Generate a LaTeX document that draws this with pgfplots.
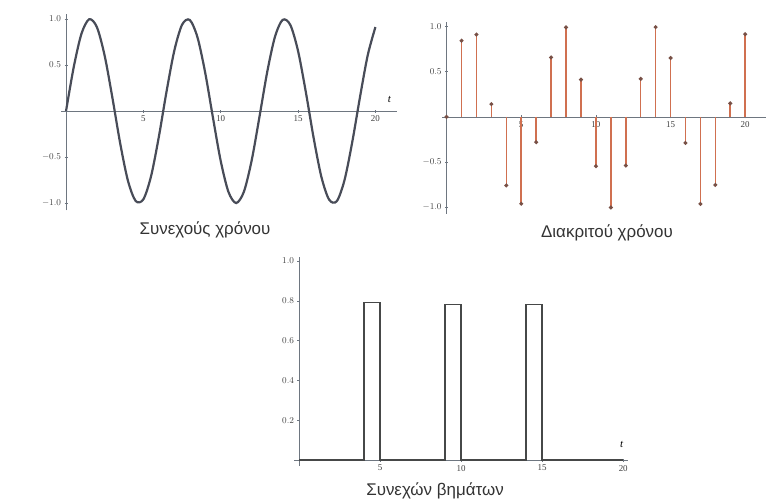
\documentclass[border=0pt]{standalone}
\usepackage{fontspec}
\setmainfont{Liberation Serif}
\newfontfamily\capfont{Liberation Sans}
\usepackage{pgfplots}
\pgfplotsset{compat=1.18}
\definecolor{curve}{RGB}{72,76,88}
\definecolor{stem}{RGB}{208,112,80}
\definecolor{stemdot}{RGB}{120,80,70}
\definecolor{axc}{RGB}{110,118,128}
\definecolor{pulse}{RGB}{70,72,72}
\pgfplotsset{
  mystyle/.style={
    axis lines=middle,
    scale only axis,
    axis line style={axc, line width=0.7pt, -},
    tick style={axc, line width=0.5pt},
    major tick length=3bp,
    tick label style={font=\fontsize{9}{10}\selectfont, text=black!75},
    /pgf/number format/assume math mode=true,
    /pgf/number format/fixed,
    clip=false,
  }
}
\begin{document}
\begin{tikzpicture}
\path[use as bounding box] (0,0) rectangle (767bp,501bp);

% Plot 1: continuous time
\begin{axis}[mystyle,
  at={(61.4bp,290.6bp)}, anchor=south west,
  width=335.7bp, height=196bp,
  xmin=-0.3, xmax=21.4, ymin=-1.08, ymax=1.05,
  xtick={5,10,15,20}, ytick={-1,-0.5,0.5,1},
  yticklabels={$-1.0$,$-0.5$,$0.5$,$1.0$},
]
\addplot[curve, line width=2.2bp, smooth] coordinates {
(0,0) (0.5,0.4794) (1,0.8415) (1.5,0.9975) (2,0.9093) (2.5,0.5985) (3,0.1411) (3.5,-0.3508)
(4,-0.7568) (4.5,-0.9775) (5,-0.9589) (5.5,-0.7055) (6,-0.2794) (6.5,0.2151) (7,0.6570)
(7.5,0.9380) (8,0.9894) (8.5,0.7985) (9,0.4121) (9.5,-0.0752) (10,-0.5440) (10.5,-0.8797)
(11,-1.0000) (11.5,-0.8755) (12,-0.5366) (12.5,-0.0663) (13,0.4202) (13.5,0.8038)
(14,0.9906) (14.5,0.9349) (15,0.6503) (15.5,0.2065) (16,-0.2879) (16.5,-0.7118)
(17,-0.9614) (17.5,-0.9802) (18,-0.7510) (18.5,-0.3383) (19,0.1499) (19.5,0.6055) (20,0.9129)
};
\node[font=\fontsize{11}{12}\selectfont\itshape] at (axis cs:20.9,0.13) {t};
\end{axis}

% Plot 2: discrete time
\begin{axis}[mystyle,
  at={(442.1bp,287.2bp)}, anchor=south west,
  width=324bp, height=192bp,
  xmin=-0.3, xmax=21.4, ymin=-1.07, ymax=1.05,
  xtick={5,10,15,20}, ytick={-1,-0.5,0.5,1},
  yticklabels={$-1.0$,$-0.5$,$0.5$,$1.0$},
]
\addplot[ycomb, stem, line width=1.6bp, mark=*, mark size=1.1bp,
  mark options={stemdot, fill=stemdot}] coordinates {
(0,0) (1,0.841) (2,0.909) (3,0.141) (4,-0.757) (5,-0.959) (6,-0.279) (7,0.657)
(8,0.989) (9,0.412) (10,-0.544) (11,-1.000) (12,-0.537) (13,0.420) (14,0.991)
(15,0.650) (16,-0.288) (17,-0.961) (18,-0.751) (19,0.150) (20,0.913)
};
\end{axis}

% Plot 3: pulses
\begin{axis}[mystyle,
  at={(294.1bp,35bp)}, anchor=south west,
  width=334bp, height=209bp,
  xmin=-0.3, xmax=20.3, ymin=-0.03, ymax=1.02,
  xtick={5,10,15,20}, ytick={0.2,0.4,0.6,0.8,1},
  yticklabels={$0.2$,$0.4$,$0.6$,$0.8$,$1.0$},
]
\addplot[pulse, line width=1.4bp] coordinates {
(0,0) (4,0) (4,0.79) (5,0.79) (5,0) (9,0) (9,0.78) (10,0.78) (10,0)
(14,0) (14,0.78) (15,0.78) (15,0) (20,0)
};
\node[font=\fontsize{11}{12}\selectfont\itshape] at (axis cs:19.9,0.08) {t};
\end{axis}

\node[font=\capfont\fontsize{17}{19}\selectfont, text=black!80] at (205bp,271bp) {Συνεχούς χρόνου};
\node[font=\capfont\fontsize{17}{19}\selectfont, text=black!80] at (607bp,268bp) {Διακριτού χρόνου};
\node[font=\capfont\fontsize{17}{19}\selectfont, text=black!80] at (435bp,10bp) {Συνεχών βημάτων};
\end{tikzpicture}
\end{document}
